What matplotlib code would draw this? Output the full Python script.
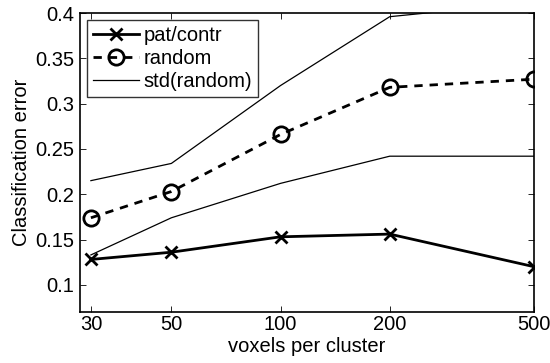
import matplotlib
matplotlib.use("Agg")
import matplotlib.pyplot as plt
from matplotlib.ticker import FixedLocator, FixedFormatter, NullLocator

voxels = [30, 50, 100, 200, 500]
tick_labels = ["30", "50", "100", "200", "500"]
pat_contr = [0.128, 0.136, 0.153, 0.156, 0.120]
random_err = [0.174, 0.203, 0.266, 0.318, 0.327]
std_upper = [0.215, 0.234, 0.320, 0.396, 0.412]
std_lower = [0.133, 0.174, 0.212, 0.242, 0.242]
y_ticks = [0.1, 0.15, 0.2, 0.25, 0.3, 0.35, 0.4]
y_tick_labels = ["0.1", "0.15", "0.2", "0.25", "0.3", "0.35", "0.4"]

plt.rcParams['font.family'] = ['Liberation Sans', 'DejaVu Sans']
FS = 14.5

fig = plt.figure(figsize=(5.5, 3.63), dpi=100)
ax = fig.add_axes([0.1455, 0.1405, 0.8255, 0.8235])

ax.plot(voxels, pat_contr, color='k', lw=2, marker='x', ms=9, mew=2, label='pat/contr')
ax.plot(voxels, random_err, color='k', lw=2, ls=(0, (3.0, 2.5)), marker='o', ms=11,
        mew=2, mfc='none', label='random')
ax.plot(voxels, std_upper, color='k', lw=0.9, label='std(random)')
ax.plot(voxels, std_lower, color='k', lw=0.9)

ax.set_xscale('log')
ax.set_xlim(28, 500)
ax.set_ylim(0.07, 0.4)
ax.xaxis.set_major_locator(FixedLocator(voxels))
ax.xaxis.set_major_formatter(FixedFormatter(tick_labels))
ax.xaxis.set_minor_locator(NullLocator())
ax.set_yticks(y_ticks)
ax.set_yticklabels(y_tick_labels)
ax.tick_params(direction='in', top=True, right=True, length=4, width=0.6,
               labelsize=FS, pad=4)
ax.tick_params(axis='x', pad=2)
for s in ax.spines.values():
    s.set_linewidth(1.2)

ax.set_xlabel('voxels per cluster', fontsize=FS, labelpad=2)
ax.set_ylabel('Classification error', fontsize=FS, labelpad=3)

leg = ax.legend(loc='upper left', fontsize=FS, frameon=True, fancybox=False,
                edgecolor='k', handlelength=2.3, borderaxespad=0.35,
                handletextpad=0.2, labelspacing=0.2, borderpad=0.3)
leg.get_frame().set_linewidth(1.0)

fig.savefig('out.png', dpi=100)
